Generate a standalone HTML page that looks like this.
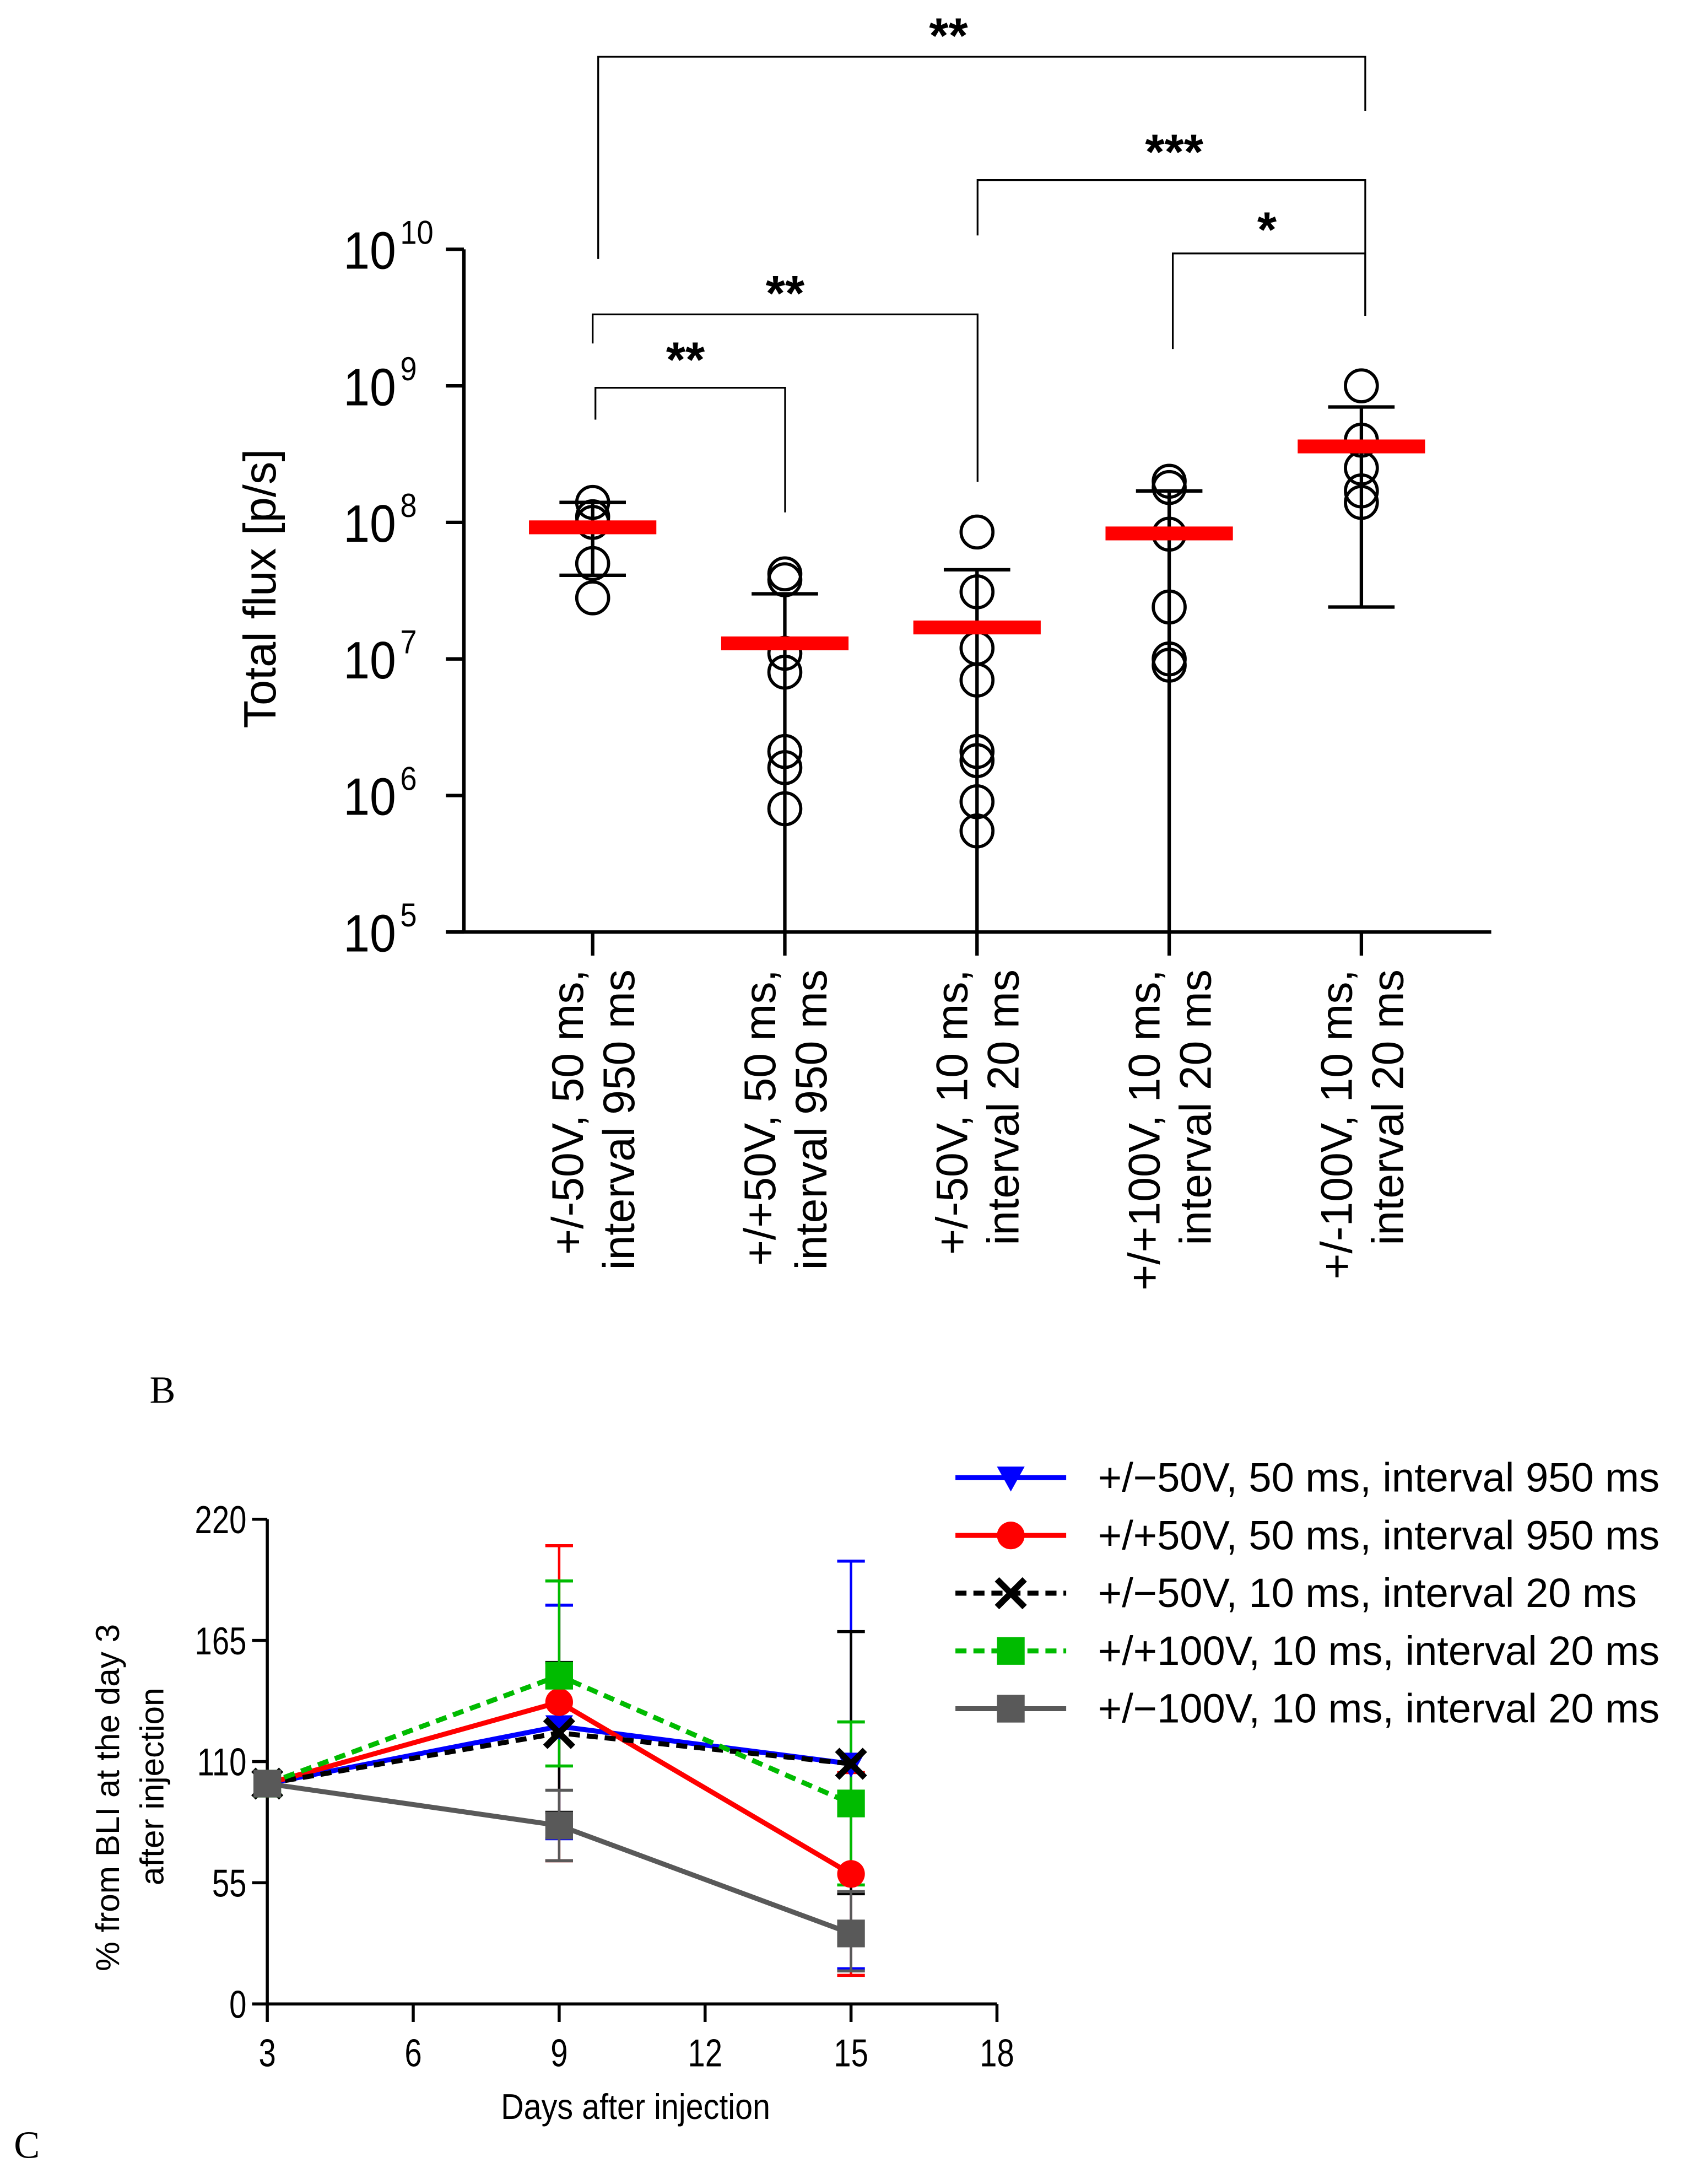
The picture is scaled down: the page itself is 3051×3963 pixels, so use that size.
<!DOCTYPE html>
<html><head><meta charset="utf-8"><style>
html,body{margin:0;padding:0;background:#fff}
svg{display:block}
text{font-family:"Liberation Sans",Arial,sans-serif}
</style></head><body>
<svg id="s" width="3051" height="3963" viewBox="0 0 1214 1577" xmlns="http://www.w3.org/2000/svg"></svg>
<script>
// ---- Chart B data ----
const groupLabels1 = ["+/-50V, 50 ms,","+/+50V, 50 ms,","+/-50V, 10 ms,","+/+100V, 10 ms,","+/-100V, 10 ms,"];
const groupLabels2 = ["interval 950 ms","interval 950 ms","interval 20 ms","interval 20 ms","interval 20 ms"];
const pointsB = [
  [1.4e8,1.1e8,1.0e8,5.0e7,2.8e7],
  [4.2e7,3.8e7,1.1e7,8e6,2.1e6,1.6e6,8e5],
  [8.5e7,3.1e7,1.2e7,7e6,2.1e6,1.8e6,9e5,5.5e5],
  [2.0e8,1.8e8,8.2e7,2.4e7,1.0e7,9e6],
  [1.0e9,4.0e8,2.5e8,1.7e8,1.4e8]
];
const meansB = [9.2e7,1.3e7,1.7e7,8.3e7,3.6e8];
const errTopB = [1.4e8,3.0e7,4.5e7,1.7e8,7.0e8];
const errBotB = [4.1e7,1e5,1e5,1e5,2.4e7];
const decadeTicks = [5,6,7,8,9,10];
// ---- Chart C data ----
const days = [3,9,15];
const seriesNames = ["+/\u221250V, 50 ms, interval 950 ms","+/+50V, 50 ms, interval 950 ms","+/\u221250V, 10 ms, interval 20 ms","+/+100V, 10 ms, interval 20 ms","+/\u2212100V, 10 ms, interval 20 ms"];
const blueVals = [100,126,109], redVals=[100,137,59], blackVals=[100,123,109], greenVals=[100,149,91], grayVals=[100,81,32];
const blueTop=[100,181,201], blueBot=[100,75,16];
const redTop=[100,208,105], redBot=[100,65,13];
const blackTop=[100,155,169], blackBot=[100,87,50];
const greenTop=[100,192,128], greenBot=[100,108,54];
const grayTop=[100,97,51], grayBot=[100,65,15];
const yTicksC=[0,55,110,165,220];
const xTicksC=[3,6,9,12,15,18];

const S=document.getElementById('s'),NS="http://www.w3.org/2000/svg";
function el(t,a,p){const e=document.createElementNS(NS,t);for(const k in a)e.setAttribute(k,a[k]);(p||S).appendChild(e);return e;}
function line(x1,y1,x2,y2,st,w,extra){const a={x1,y1,x2,y2,stroke:st,'stroke-width':w};Object.assign(a,extra||{});return el('line',a);}

// ===== Chart B =====
const by=v=>673-(Math.log10(v)-5)*98.6;
const bx=i=>428+i*138.8;
let ax=line(335,180,335,673,'#000',2.5);
ax=line(322,673,1077,673,'#000',2.5);
decadeTicks.forEach(d=>{const y=by(Math.pow(10,d));line(322,y,335,y,'#000',2.5);
 const t=el('text',{x:0,y:0,'font-size':38,'text-anchor':'end',transform:`translate(286,${y+14}) scale(0.9,1)`});t.textContent='10';
 
 const s=el('text',{x:0,y:0,'font-size':24,transform:`translate(289,${y-4}) scale(0.9,1)`});s.textContent=String(d);
 });
let yt=el('text',{x:0,y:0,'font-size':33,'text-anchor':'middle',transform:'translate(199,425) rotate(-90)'});yt.textContent='Total flux [p/s]';

groupLabels1.forEach((lb,i)=>{const x=bx(i);line(x,673,x,690,'#000',2.5);
 const t1=el('text',{x:0,y:0,'font-size':32,'text-anchor':'end',transform:`translate(${x-7},700) rotate(-90)`});t1.textContent=lb;
 
 const t2=el('text',{x:0,y:0,'font-size':32,'text-anchor':'end',transform:`translate(${x+30},700) rotate(-90)`});t2.textContent=groupLabels2[i];
 
 const top=by(errTopB[i]),bot=by(errBotB[i]);
 const eb=line(x,top,x,bot,'#000',2.5);
 line(x-24,top,x+24,top,'#000',2.5);
 if(errBotB[i]>1.5e5)line(x-24,bot,x+24,bot,'#000',2.5);
 pointsB[i].forEach(v=>{const c=el('circle',{cx:x,cy:by(v),r:11.5,fill:'none',stroke:'#000','stroke-width':2.3});
  });
 const m=el('rect',{x:x-46,y:by(meansB[i])-5,width:92,height:10,fill:'#f00'});
 
});
const brackets=[[432,187,986,80,41,'**',685,38],[706,170,986,228,130,'***',848,122],[847,252,986,228,183,'*',915,178],[428,248,706,348,227,'**',567,224],[430,303,567,370,280,'**',495,272]];
brackets.forEach(b=>{const p=el('polyline',{points:`${b[0]},${b[1]} ${b[0]},${b[4]} ${b[2]},${b[4]} ${b[2]},${b[3]}`,fill:'none',stroke:'#000','stroke-width':1.3});
 
 const t=el('text',{x:b[6],y:b[7],'font-size':36,'text-anchor':'middle','font-weight':'bold'});t.textContent=b[5];
 });
let L=el('text',{x:108,y:1013,'font-size':28,style:'font-family:"Liberation Serif",serif'});L.textContent='B';

L=el('text',{x:10,y:1558,'font-size':28,style:'font-family:"Liberation Serif",serif'});L.textContent='C';


// ===== Chart C =====
const cx=d=>193+(d-3)*(527/15);
const cy=v=>1447-v*(350/220);
ax=line(193,1097,193,1447,'#000',2.2);
ax=line(193,1447,720,1447,'#000',2.2);
yTicksC.forEach(v=>{const y=cy(v);line(182,y,193,y,'#000',2.2);
 const t=el('text',{x:0,y:0,'font-size':28,'text-anchor':'end',transform:`translate(178,${y+10}) scale(0.8,1)`});t.textContent=v;
 });
xTicksC.forEach(v=>{const x=cx(v);line(x,1447,x,1460,'#000',2.2);
 const t=el('text',{x:0,y:0,'font-size':28,'text-anchor':'middle',transform:`translate(${x},1492) scale(0.8,1)`});t.textContent=v;
 });
let xt=el('text',{x:0,y:0,'font-size':26,'text-anchor':'middle',transform:'translate(459,1530) scale(0.88,1)'});xt.textContent='Days after injection';

yt=el('text',{x:0,y:0,'font-size':24,'text-anchor':'middle',transform:'translate(86,1298) rotate(-90)'});yt.textContent='% from BLI at the day 3';

yt=el('text',{x:0,y:0,'font-size':24,'text-anchor':'middle',transform:'translate(118,1290) rotate(-90)'});yt.textContent='after injection';


const series=[
 {v:blueVals,t:blueTop,b:blueBot,c:'#0000ff',dash:null,m:'tri'},
 {v:redVals,t:redTop,b:redBot,c:'#ff0000',dash:null,m:'circ'},
 {v:blackVals,t:blackTop,b:blackBot,c:'#000',dash:'8,5',m:'x'},
 {v:greenVals,t:greenTop,b:greenBot,c:'#00bb00',dash:'8,5',m:'sq'},
 {v:grayVals,t:grayTop,b:grayBot,c:'#595959',dash:null,m:'sq'}];
function marker(m,x,y,c,s){let e;
 if(m==='tri')e=el('polygon',{points:`${x-s},${y-s*0.8} ${x+s},${y-s*0.8} ${x},${y+s}`,fill:c});
 else if(m==='circ')e=el('circle',{cx:x,cy:y,r:s,fill:c});
 else if(m==='sq')e=el('rect',{x:x-s,y:y-s,width:2*s,height:2*s,fill:c});
 else {e=el('path',{d:`M${x-s},${y-s}L${x+s},${y+s}M${x+s},${y-s}L${x-s},${y+s}`,stroke:c,'stroke-width':4.5,fill:'none'});}
 }
series.forEach(s=>{days.forEach((d,i)=>{if(i===0)return;const x=cx(d);
 const e=line(x,cy(s.t[i]),x,cy(s.b[i]),s.c,1.8);
 line(x-10,cy(s.t[i]),x+10,cy(s.t[i]),s.c,2.2);line(x-10,cy(s.b[i]),x+10,cy(s.b[i]),s.c,2.2);});});
series.forEach((s,k)=>{const pts=days.map((d,i)=>cx(d)+','+cy(s.v[i])).join(' ');
 const a={points:pts,fill:'none',stroke:s.c,'stroke-width':3.6};if(s.dash)a['stroke-dasharray']=s.dash;
 const p=el('polyline',a);
 days.forEach((d,i)=>marker(s.m,cx(d),cy(s.v[i]),s.c,10));
 const ly=1067+k*41.7;
 const la={x1:690,y1:ly,x2:770,y2:ly,stroke:s.c,'stroke-width':3.6};if(s.dash)la['stroke-dasharray']=s.dash;
 const ll=el('line',la);
 marker(s.m,730,ly,s.c,10);
 const t=el('text',{x:793,y:ly+10,'font-size':29.5});t.textContent=seriesNames[k];
 
});
</script>
</body></html>
